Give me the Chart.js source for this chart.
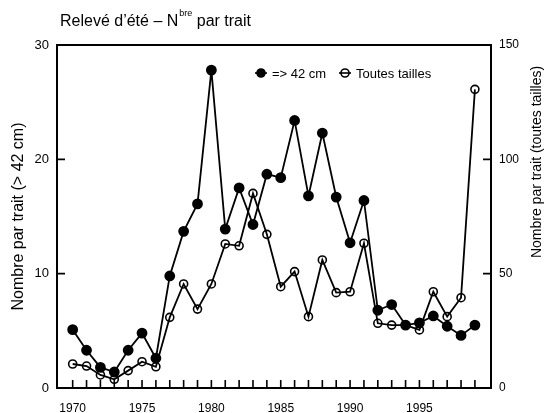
<!DOCTYPE html>
<html>
<head>
<meta charset="utf-8">
<script src="https://cdn.jsdelivr.net/npm/chart.js@4"></script>
<style>
  html, body { margin: 0; padding: 0; background: #fff; }
</style>
</head>
<body>
<canvas id="releve" width="548" height="413"></canvas>
<script>
// values
const years = [1970, 1971, 1972, 1973, 1974, 1975, 1976, 1977, 1978, 1979,
               1980, 1981, 1982, 1983, 1984, 1985, 1986, 1987, 1988, 1989,
               1990, 1991, 1992, 1993, 1994, 1995, 1996, 1997, 1998, 1999];
const plus42 = [5.1, 3.3, 1.8, 1.4, 3.3, 4.8, 2.6, 9.8, 13.7, 16.1,
                27.8, 13.9, 17.5, 14.3, 18.7, 18.4, 23.4, 16.8, 22.3, 16.7,
                12.7, 16.4, 6.8, 7.3, 5.5, 5.7, 6.3, 5.4, 4.6, 5.5];
const toutesTailles = [10.5, 9.6, 5.7, 3.8, 7.6, 11.5, 9.3, 30.9, 45.5, 34.5,
                       45.5, 63, 62.2, 85.1, 67.2, 44.3, 50.9, 31.2, 56, 41.7,
                       42.1, 63.3, 28.3, 27.5, 27.5, 25.4, 42.1, 31.2, 39.5, 130.6];
const leftTicks = [0, 10, 20, 30];
const rightTicks = [0, 50, 100, 150];

const FONT = '"Liberation Sans", Arial, sans-serif';
const fnt = (px) => px + 'px ' + FONT;

// box, inward tick marks, titles and the legend
const decor = {
    id: 'decor',
    afterDraw(chart) {
        const ctx = chart.ctx;
        const a = chart.chartArea;
        const sx = chart.scales.x, sy = chart.scales.y, sy1 = chart.scales.y1;
        ctx.save();
        ctx.strokeStyle = '#000';
        ctx.fillStyle = '#000';
        ctx.lineWidth = 2;
        ctx.strokeRect(a.left, a.top, a.right - a.left, a.bottom - a.top);

        ctx.lineWidth = 1.6;
        ctx.beginPath();
        sx.ticks.forEach(t => {
            const px = sx.getPixelForValue(t.value);
            ctx.moveTo(px, a.bottom);
            ctx.lineTo(px, a.bottom - 8);
        });
        sy.ticks.forEach(t => {
            const py = sy.getPixelForValue(t.value);
            ctx.moveTo(a.left, py);
            ctx.lineTo(a.left + 8, py);
        });
        sy1.ticks.forEach(t => {
            const py = sy1.getPixelForValue(t.value);
            ctx.moveTo(a.right, py);
            ctx.lineTo(a.right - 8, py);
        });
        ctx.stroke();

        // title with superscript
        ctx.textBaseline = 'alphabetic';
        ctx.textAlign = 'left';
        let x = 60;
        const base = 26;
        ctx.font = fnt(16);
        const p1 = 'Relevé d\u2019été \u2013 N';
        ctx.fillText(p1, x, base);
        x += ctx.measureText(p1).width + 1;
        ctx.font = fnt(9);
        ctx.fillText('bre', x, base - 10);
        x += ctx.measureText('bre').width;
        ctx.font = fnt(16);
        ctx.fillText(' par trait', x, base);

        // axis titles
        ctx.textAlign = 'center';
        ctx.textBaseline = 'middle';
        ctx.save();
        ctx.translate(19, (a.top + a.bottom) / 2);
        ctx.rotate(-Math.PI / 2);
        ctx.font = fnt(16);
        ctx.fillText('Nombre par trait (> 42 cm)', 0, 0);
        ctx.restore();
        ctx.save();
        ctx.translate(537, 162);
        ctx.rotate(-Math.PI / 2);
        ctx.font = fnt(14);
        ctx.fillText('Nombre par trait (toutes tailles)', 0, 0);
        ctx.restore();

        // legend inside the plot
        const ly = 73;
        const items = [[261, chart.data.datasets[0]], [345, chart.data.datasets[1]]];
        ctx.textAlign = 'left';
        ctx.font = fnt(13);
        items.forEach(([mx, ds]) => {
            ctx.lineWidth = 1.6;
            ctx.beginPath();
            ctx.moveTo(mx - 6, ly);
            ctx.lineTo(mx + 6, ly);
            ctx.stroke();
            ctx.beginPath();
            ctx.arc(mx, ly, 4, 0, Math.PI * 2);
            if (ds.pointBackgroundColor === '#000') ctx.fill();
            ctx.stroke();
            ctx.fillText(ds.label, mx + 11, ly + 1);
        });
        ctx.restore();
    }
};

new Chart(document.getElementById('releve'), {
    type: 'line',
    data: {
        labels: years,
        datasets: [{
            label: '=> 42 cm',
            data: years.map((yr, i) => ({ x: yr, y: plus42[i] })),
            yAxisID: 'y',
            borderColor: '#000',
            borderWidth: 1.8,
            pointRadius: 4.5,
            pointBackgroundColor: '#000',
            pointBorderColor: '#000',
            tension: 0
        }, {
            label: 'Toutes tailles',
            data: years.map((yr, i) => ({ x: yr, y: toutesTailles[i] })),
            yAxisID: 'y1',
            borderColor: '#000',
            borderWidth: 1.8,
            pointRadius: 4,
            pointBorderWidth: 1.6,
            pointBackgroundColor: 'rgba(0,0,0,0)',
            pointBorderColor: '#000',
            tension: 0
        }]
    },
    options: {
        responsive: false,
        animation: false,
        layout: { padding: { top: 45, left: 0, right: 0, bottom: 0 } },
        plugins: {
            legend: { display: false },
            title: { display: false },
            tooltip: { enabled: false }
        },
        scales: {
            x: {
                type: 'linear',
                min: 1968.87,
                max: 2000.16,
                grid: { display: false },
                border: { display: false },
                afterBuildTicks: (s) => { s.ticks = years.map(v => ({ value: v })); },
                afterFit: (s) => { s.height = 25; },
                ticks: {
                    autoSkip: false,
                    maxRotation: 0,
                    padding: 5,
                    color: '#000',
                    font: { family: FONT, size: 12 },
                    callback: (v) => (v % 5 === 0 ? String(v) : '')
                }
            },
            y: {
                position: 'left',
                min: 0,
                max: 30,
                grid: { display: false },
                border: { display: false },
                afterBuildTicks: (s) => { s.ticks = leftTicks.map(v => ({ value: v })); },
                afterFit: (s) => { s.width = 57; },
                ticks: { padding: 0, color: '#000', font: { family: FONT, size: 13 } }
            },
            y1: {
                position: 'right',
                min: 0,
                max: 150,
                grid: { display: false },
                border: { display: false },
                afterBuildTicks: (s) => { s.ticks = rightTicks.map(v => ({ value: v })); },
                afterFit: (s) => { s.width = 57; },
                ticks: { padding: 0, color: '#000', font: { family: FONT, size: 12 } }
            }
        }
    },
    plugins: [decor]
});
</script>
</body>
</html>
